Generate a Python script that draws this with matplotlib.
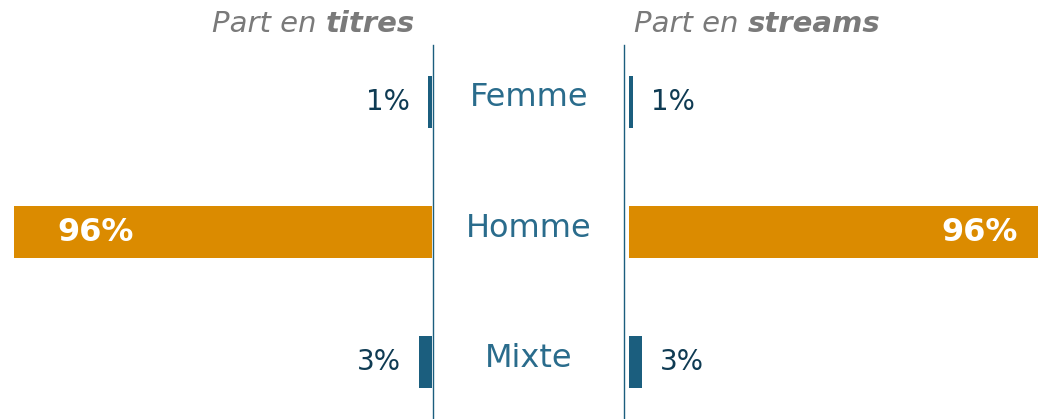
import matplotlib.pyplot as plt
from matplotlib.lines import Line2D

# dati
categorie = ["Femme", "Homme", "Mixte"]
part_titres = [1, 96, 3]
part_streams = [1, 96, 3]
etichette_titres = ["1%", "96%", "3%"]
etichette_streams = ["1%", "96%", "3%"]

ORANGE = "#DB8B00"
BLU = "#1B5E7E"
BLU_TESTO = "#0F3B53"
BLU_CAT = "#2A6C8C"
GRIGIO = "#7A7A7A"

plt.rcParams["font.family"] = ["DejaVu Sans"]

W, H = 1038, 419
fig = plt.figure(figsize=(W / 100, H / 100), dpi=100)

px = 418 / 96  # pixel per punto percentuale
y0, passo = 102, 130  # centro prima barra, distanza tra barre
ylim = ((H - y0) / passo, -y0 / passo)

# asse sinistro (titres)
ax_l = fig.add_axes([0, 0, 432 / W, 1])
ax_l.barh(range(len(categorie)), part_titres, height=0.4,
          color=[BLU if v < 50 else ORANGE for v in part_titres])
ax_l.set_xlim(432 / px, 0)
ax_l.set_ylim(*ylim)
ax_l.axis("off")

# asse destro (streams)
ax_r = fig.add_axes([629 / W, 0, (W - 629) / W, 1])
ax_r.barh(range(len(categorie)), part_streams, height=0.4,
          color=[BLU if v < 50 else ORANGE for v in part_streams])
ax_r.set_xlim(0, (W - 629) / px)
ax_r.set_ylim(*ylim)
ax_r.axis("off")

for i, (v, lab) in enumerate(zip(part_titres, etichette_titres)):
    if v > 50:
        ax_l.annotate(lab, (v, i), xytext=(31, 0), textcoords="offset points",
                      ha="left", va="center", color="white", fontsize=23,
                      fontweight="bold", annotation_clip=False)
    else:
        ax_l.annotate(lab, (v, i), xytext=(-13, 0), textcoords="offset points",
                      ha="right", va="center", color=BLU_TESTO, fontsize=20,
                      annotation_clip=False)

for i, (v, lab) in enumerate(zip(part_streams, etichette_streams)):
    if v > 50:
        ax_r.annotate(lab, (v, i), xytext=(-21, 0), textcoords="offset points",
                      ha="right", va="center", color="white", fontsize=23,
                      fontweight="bold", annotation_clip=False)
    else:
        ax_r.annotate(lab, (v, i), xytext=(13, 0), textcoords="offset points",
                      ha="left", va="center", color=BLU_TESTO, fontsize=20,
                      annotation_clip=False)

# categorie al centro
for i, c in enumerate(categorie):
    fig.text(529 / W, 1 - (y0 + i * passo - 4) / H, c, ha="center", va="center",
             color=BLU_CAT, fontsize=23)

# linee verticali
for xl in (433, 624):
    fig.add_artist(Line2D([xl / W, xl / W], [0, 1 - 45 / H], color=BLU, lw=1))

# titoli
fig.canvas.draw()
r = fig.canvas.get_renderer()
yt = 1 - 24 / H
t1 = fig.text(415 / W, yt, "titres", ha="right", va="center", color=GRIGIO,
              fontsize=21, style="italic", fontweight="bold")
bb = t1.get_window_extent(renderer=r)
fig.text(bb.x0 / W, yt, "Part en ", ha="right", va="center", color=GRIGIO,
         fontsize=21, style="italic")

t2 = fig.text(634 / W, yt, "Part en ", ha="left", va="center", color=GRIGIO,
              fontsize=21, style="italic")
bb = t2.get_window_extent(renderer=r)
fig.text(bb.x1 / W, yt, "streams", ha="left", va="center", color=GRIGIO,
         fontsize=21, style="italic", fontweight="bold")

fig.savefig("out.png", dpi=100)
